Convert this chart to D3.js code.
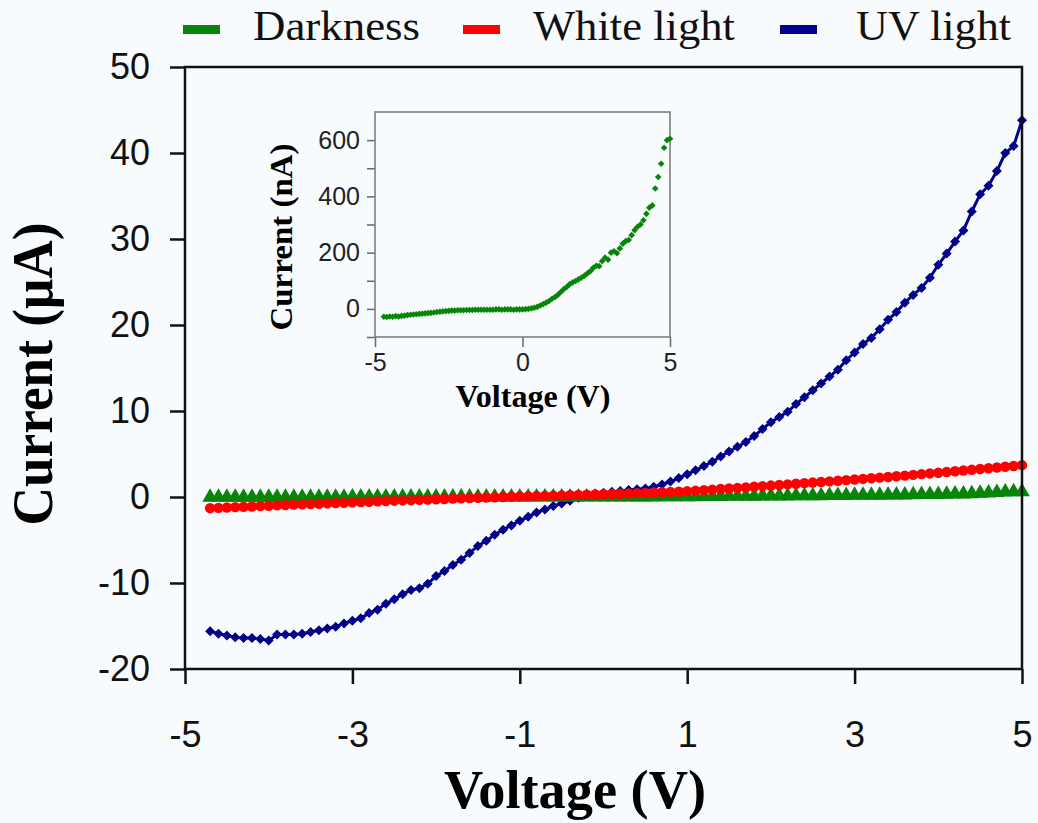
<!DOCTYPE html>
<html>
<head>
<meta charset="utf-8">
<script src="https://cdn.jsdelivr.net/npm/d3@7"></script>
<style>
  body { margin: 0; background: #f8fbfe; }
  svg { display: block; }
</style>
</head>
<body>
<svg id="chart" width="1038" height="823"></svg>
<script>
// voltage sweep (V), one reading every 0.1 V
const voltage = [
  -4.7,-4.6,-4.5,-4.4,-4.3,-4.2,-4.1,-4.0,-3.9,-3.8,
  -3.7,-3.6,-3.5,-3.4,-3.3,-3.2,-3.1,-3.0,-2.9,-2.8,
  -2.7,-2.6,-2.5,-2.4,-2.3,-2.2,-2.1,-2.0,-1.9,-1.8,
  -1.7,-1.6,-1.5,-1.4,-1.3,-1.2,-1.1,-1.0,-0.9,-0.8,
  -0.7,-0.6,-0.5,-0.4,-0.3,-0.2,-0.1,0.0,0.1,0.2,
  0.3,0.4,0.5,0.6,0.7,0.8,0.9,1.0,1.1,1.2,
  1.3,1.4,1.5,1.6,1.7,1.8,1.9,2.0,2.1,2.2,
  2.3,2.4,2.5,2.6,2.7,2.8,2.9,3.0,3.1,3.2,
  3.3,3.4,3.5,3.6,3.7,3.8,3.9,4.0,4.1,4.2,
  4.3,4.4,4.5,4.6,4.7,4.8,4.9,5.0
];
// UV light current (uA)
const uvCurrent = [
  -15.6,-15.9,-16.1,-16.3,-16.4,-16.4,-16.5,-16.7,-16.0,-16.0,
  -16.0,-15.9,-15.7,-15.5,-15.3,-15.1,-14.7,-14.4,-14.1,-13.5,
  -13.1,-12.4,-11.9,-11.3,-10.8,-10.6,-10.1,-9.2,-8.6,-7.9,
  -7.3,-6.5,-5.7,-5.1,-4.4,-3.8,-3.3,-2.75,-2.3,-1.8,
  -1.45,-1.05,-0.75,-0.45,-0.1,0.15,0.35,0.5,0.6,0.7,
  0.8,0.9,1.0,1.2,1.45,1.8,2.2,2.65,3.1,3.6,
  4.1,4.7,5.3,5.85,6.4,7.1,7.9,8.7,9.3,9.9,
  10.8,11.6,12.4,13.2,14.0,14.8,15.9,16.8,17.8,18.5,
  19.5,20.6,21.5,22.6,23.5,24.3,25.5,27.0,28.3,29.7,
  31.0,33.2,35.2,36.2,37.9,40.0,40.8,43.8
];
// white light current (uA)
const whiteCurrent = [
  -1.30,-1.27,-1.22,-1.18,-1.14,-1.10,-1.06,-1.02,-0.97,-0.93,
  -0.89,-0.86,-0.82,-0.78,-0.74,-0.70,-0.67,-0.63,-0.58,-0.55,
  -0.49,-0.46,-0.43,-0.40,-0.37,-0.33,-0.30,-0.27,-0.23,-0.19,
  -0.16,-0.12,-0.09,-0.06,-0.03,0.00,0.03,0.06,0.08,0.11,
  0.13,0.16,0.18,0.20,0.23,0.26,0.29,0.32,0.35,0.38,
  0.41,0.45,0.48,0.52,0.55,0.59,0.62,0.68,0.74,0.80,
  0.86,0.93,0.99,1.06,1.12,1.19,1.26,1.33,1.40,1.47,
  1.54,1.61,1.68,1.75,1.82,1.89,1.96,2.03,2.11,2.18,
  2.25,2.33,2.41,2.49,2.57,2.66,2.74,2.82,2.91,2.99,
  3.08,3.16,3.25,3.34,3.43,3.52,3.61,3.70
];
// darkness current (nA) - shown in the inset, and in uA on the main plot
const darkCurrentNA = [
  -28,-29,-27,-28,-26,-27,-25,-24,-22,-21,
  -20,-19,-18,-17,-16,-15,-14,-13,-11,-10,
  -9,-8,-7,-6,-6,-5,-5,-5,-4,-4,
  -4,-3,-3,-3,-3,-3,-3,-3,-2,-2,
  -3,-2,-2,-2,-3,-2,-2,-2,-1,0,
  2,4,7,12,17,22,28,36,42,50,
  60,70,78,88,94,99,105,111,118,126,
  134,146,153,152,170,182,175,200,205,198,
  215,232,241,245,262,280,292,300,315,338,
  360,368,428,469,516,573,600,605
];

const xTicks = [-5, -3, -1, 1, 3, 5];
const yTicks = [-20, -10, 0, 10, 20, 30, 40, 50];
const insetXTicks = [-5, 0, 5];
const insetYTicks = [-100, 0, 100, 200, 300, 400, 500, 600];
const insetYLabels = [0, 200, 400, 600];
const seriesNames = ["Darkness", "White light", "UV light"];
const seriesColors = ["#078507", "#ff0000", "#00008b"];

const svg = d3.select("#chart");
svg.append("rect").attr("width", 1038).attr("height", 823).attr("fill", "#f8fbfe");

const x = d3.scaleLinear().domain([-5, 5]).range([185, 1022]);
const y = d3.scaleLinear().domain([-20, 50]).range([669, 67]);

const dark = voltage.map((v, i) => ({v: v, c: darkCurrentNA[i] / 1000}));
const white = voltage.map((v, i) => ({v: v, c: whiteCurrent[i]}));
const uv = voltage.map((v, i) => ({v: v, c: uvCurrent[i]}));

// plain hyphen for negatives, like the original figure
const plain = d => String(d);

// ---- main axes
const yAxis = d3.axisLeft(y).tickValues(yTicks).tickSize(15).tickPadding(20).tickSizeOuter(0).tickFormat(plain);
const xAxis = d3.axisBottom(x).tickValues(xTicks).tickSize(15).tickPadding(37).tickSizeOuter(0).tickFormat(plain);

const gy = svg.append("g").attr("transform", "translate(185,0)").call(yAxis);
const gx = svg.append("g").attr("transform", "translate(0,669)").call(xAxis);
[gx, gy].forEach(g => {
  g.select(".domain").remove();
  g.selectAll("line").attr("stroke", "#111").attr("stroke-width", 2.5);
  g.selectAll("text").attr("fill", "#111")
    .style("font-family", "Arial, 'Liberation Sans', sans-serif").style("font-size", "36px");
});

// ---- series (blue line under the markers)
const line = d3.line().x(d => x(d.v)).y(d => y(d.c));
svg.append("path").datum(uv).attr("d", line)
  .attr("fill", "none").attr("stroke", seriesColors[2]).attr("stroke-width", 3);
svg.append("g").selectAll("path").data(uv).join("path")
  .attr("d", d3.symbol(d3.symbolSquare, 50))
  .attr("transform", d => `translate(${x(d.v)},${y(d.c)}) rotate(45)`)
  .attr("fill", seriesColors[2]);

svg.append("g").selectAll("path").data(dark).join("path")
  .attr("d", d3.symbol(d3.symbolTriangle, 105))
  .attr("transform", d => `translate(${x(d.v)},${y(d.c)})`)
  .attr("fill", seriesColors[0]);

svg.append("g").selectAll("circle").data(white).join("circle")
  .attr("cx", d => x(d.v)).attr("cy", d => y(d.c)).attr("r", 5.2)
  .attr("fill", seriesColors[1]);

// frame
svg.append("rect").attr("x", 185).attr("y", 67).attr("width", 1022 - 185).attr("height", 669 - 67)
  .attr("fill", "none").attr("stroke", "#111").attr("stroke-width", 2.5);

// ---- axis titles
svg.append("text").attr("x", 575).attr("y", 808).attr("text-anchor", "middle")
  .attr("textLength", 262).attr("lengthAdjust", "spacingAndGlyphs")
  .style("font-family", "'Times New Roman', 'Liberation Serif', serif")
  .style("font-weight", "bold").style("font-size", "55px").text("Voltage (V)");
svg.append("text").attr("transform", "translate(52,374) rotate(-90)").attr("text-anchor", "middle")
  .attr("textLength", 303).attr("lengthAdjust", "spacingAndGlyphs")
  .style("font-family", "'Times New Roman', 'Liberation Serif', serif")
  .style("font-weight", "bold").style("font-size", "57px").text("Current (\u03bcA)");

// ---- legend
const legendRectX = [183, 463, 780];
const legendTextX = [253, 533, 856];
const legendTextLen = [167, 202, 155];
const legend = svg.append("g");
seriesNames.forEach((name, i) => {
  legend.append("rect").attr("x", legendRectX[i]).attr("y", 25).attr("width", 37).attr("height", 9)
    .attr("fill", seriesColors[i]);
  legend.append("text").attr("x", legendTextX[i]).attr("y", 40)
    .attr("textLength", legendTextLen[i]).attr("lengthAdjust", "spacingAndGlyphs")
    .style("font-family", "'Times New Roman', 'Liberation Serif', serif")
    .style("font-size", "42px").attr("fill", "#111").text(name);
});

// ---- inset: darkness current in nA
const ix = d3.scaleLinear().domain([-5, 5]).range([375, 670]);
const iy = d3.scaleLinear().domain([-100, 700]).range([337, 112]);

const inset = svg.append("g");
const iyAxis = d3.axisLeft(iy).tickValues(insetYTicks).tickSize(8).tickPadding(7).tickSizeOuter(0)
  .tickFormat(d => insetYLabels.includes(d) ? String(d) : "");
const ixAxis = d3.axisBottom(ix).tickValues(insetXTicks).tickSize(10).tickPadding(6).tickSizeOuter(0)
  .tickFormat(plain);
const igy = inset.append("g").attr("transform", "translate(375,0)").call(iyAxis);
const igx = inset.append("g").attr("transform", "translate(0,337)").call(ixAxis);
[igx, igy].forEach(g => {
  g.select(".domain").remove();
  g.selectAll("line").attr("stroke", "#666").attr("stroke-width", 1.5);
  g.selectAll("text").attr("fill", "#222")
    .style("font-family", "Arial, 'Liberation Sans', sans-serif").style("font-size", "25px");
});
inset.append("rect").attr("x", 375).attr("y", 112).attr("width", 670 - 375).attr("height", 337 - 112)
  .attr("fill", "none").attr("stroke", "#777").attr("stroke-width", 1.5);

inset.append("g").selectAll("path").data(voltage).join("path")
  .attr("d", d3.symbol(d3.symbolSquare, 22))
  .attr("transform", (v, i) => `translate(${ix(v)},${iy(darkCurrentNA[i])}) rotate(45)`)
  .attr("fill", seriesColors[0]);

inset.append("text").attr("x", 533).attr("y", 407).attr("text-anchor", "middle")
  .attr("textLength", 155).attr("lengthAdjust", "spacingAndGlyphs")
  .style("font-family", "'Times New Roman', 'Liberation Serif', serif")
  .style("font-weight", "bold").style("font-size", "31px").text("Voltage (V)");
inset.append("text").attr("transform", "translate(292,237) rotate(-90)").attr("text-anchor", "middle")
  .attr("textLength", 187).attr("lengthAdjust", "spacingAndGlyphs")
  .style("font-family", "'Times New Roman', 'Liberation Serif', serif")
  .style("font-weight", "bold").style("font-size", "31px").text("Current (nA)");
</script>
</body>
</html>
